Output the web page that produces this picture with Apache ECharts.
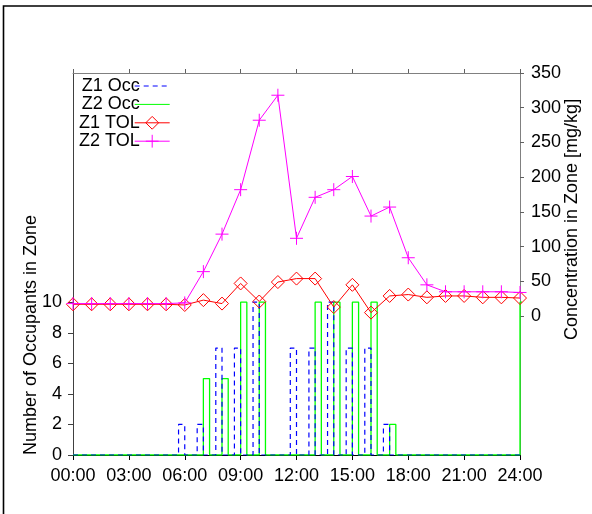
<!DOCTYPE html>
<html>
<head>
<meta charset="utf-8">
<script src="https://cdn.jsdelivr.net/npm/echarts@6/dist/echarts.min.js"></script>
<style>
html,body{margin:0;padding:0;background:#fff;}
#c{width:592px;height:514px;}
</style>
</head>
<body>
<div id="c"></div>
<script>
// ---- data ----
const hours = [0,1,2,3,4,5,6,7,8,9,10,11,12,13,14,15,16,17,18,19,20,21,22,23,24];
const z1Tol = [17,17,17,17,17,17,16,23,18,47,21,49,54,54,13,45,5,29,31,27,29,29,27,27,26];
const z2Tol = [18,18,18,18,18,18,19,64,118,182,282,318,112,171,182,201,144,157,84,45,35,35,35,35,34];
// Z1 occupancy: pulse lasting the last third of the hour ending at hour h
const z1Occ = [0,0,0,0,0,0,2,2,7,7,10,0,7,7,10,7,7,2,0,0,0,0,0,0,0];
// Z2 occupancy: pulse lasting the first third of the hour starting at hour h
const z2Occ = [0,0,0,0,0,0,0,5,5,10,10,0,0,10,10,10,10,2,0,0,0,0,0,0,10];
const pulseLen = 1/3;
const xTickLabels = ['00:00','03:00','06:00','09:00','12:00','15:00','18:00','21:00','24:00'];
const leftTicks = [0,2,4,6,8,10];
const rightTicks = [0,50,100,150,200,250,300,350];
const seriesNames = ['Z1 Occ','Z2 Occ','Z1 TOL','Z2 TOL'];

function stepsBefore(vals){
  const pts=[[0,0]];
  hours.forEach((h,i)=>{const v=vals[i]; if(v>0){pts.push([h-pulseLen,0],[h-pulseLen,v],[h,v],[h,0]);}});
  if(pts[pts.length-1][0]<24) pts.push([24,0]);
  return pts;
}
function stepsAfter(vals){
  const pts=[[0,0]];
  hours.forEach((h,i)=>{const v=vals[i]; if(v>0){pts.push([h,0],[h,v],[h+pulseLen,v],[h+pulseLen,0]);}});
  if(pts[pts.length-1][0]<24) pts.push([24,0]);
  return pts;
}

const FONT = "'Liberation Sans', Arial, Helvetica, sans-serif";
const chart = echarts.init(document.getElementById('c'), null, {renderer:'canvas'});
const diamond = 'path://M0,-1L1,0L0,1L-1,0Z';
const plus = 'path://M0,-1L0,1M-1,0L1,0';

chart.setOption({
  animation:false,
  backgroundColor:'#fff',
  textStyle:{fontFamily:FONT},
  grid:{left:73,right:72,top:73,bottom:59,containLabel:false},
  legend:{
    orient:'vertical', left:79, top:77, align:'right',
    itemWidth:35, itemHeight:16, itemGap:0.4, padding:0,
    lineStyle:{width:1},
    data:[
      {name:seriesNames[0], itemStyle:{opacity:0}},
      {name:seriesNames[1], itemStyle:{opacity:0}},
      {name:seriesNames[2], itemStyle:{color:'rgba(255,0,0,0)',borderColor:'#ff0000',borderWidth:1}},
      {name:seriesNames[3], itemStyle:{color:'rgba(255,0,255,0)',borderColor:'#ff00ff',borderWidth:1}}
    ],
    textStyle:{fontSize:18,color:'#000',fontFamily:FONT,lineHeight:17,padding:[0,-10,0,0]}
  },
  xAxis:[{
    type:'value', min:0, max:24, interval:3, position:'bottom',
    axisLine:{show:true,onZero:false,lineStyle:{color:'#000',width:1}},
    axisTick:{show:true,inside:false,length:5,lineStyle:{color:'#000'}},
    axisLabel:{fontSize:18,color:'#000',margin:12,fontFamily:FONT,formatter:v=>xTickLabels[Math.round(v/3)]},
    splitLine:{show:false}
  },{
    type:'value', min:0, max:24, interval:3, position:'top',
    axisLine:{show:true,onZero:false,lineStyle:{color:'#808080',width:1}},
    axisTick:{show:true,inside:false,length:4,lineStyle:{color:'#606060'}},
    axisLabel:{show:false}, splitLine:{show:false}
  }],
  yAxis:[{
    type:'value', min:0, max:25, interval:1, position:'left',
    axisLine:{show:true,onZero:false,lineStyle:{color:'#404040',width:1}},
    axisTick:{show:true,inside:false,length:5,customValues:leftTicks,lineStyle:{color:'#404040'}},
    axisLabel:{fontSize:18,color:'#000',margin:11,fontFamily:FONT,customValues:leftTicks},
    splitLine:{show:false}
  },{
    type:'value', min:-200, max:350, interval:50, position:'right',
    axisLine:{show:true,onZero:false,lineStyle:{color:'#808080',width:1}},
    axisTick:{show:true,inside:false,length:4,customValues:rightTicks,lineStyle:{color:'#606060'}},
    axisLabel:{fontSize:18,color:'#000',margin:11,fontFamily:FONT,customValues:rightTicks},
    splitLine:{show:false}
  }],
  series:[{
    name:seriesNames[1], type:'line', xAxisIndex:0, yAxisIndex:0, z:2,
    data:stepsAfter(z2Occ), symbol:'circle', showSymbol:false,
    lineStyle:{color:'#00ff00',width:1.3,type:'solid'}
  },{
    name:seriesNames[0], type:'line', xAxisIndex:0, yAxisIndex:0, z:3,
    data:stepsBefore(z1Occ), symbol:'circle', showSymbol:false,
    lineStyle:{color:'#0000ff',width:1.2,type:[5,4]}
  },{
    name:seriesNames[2], type:'line', xAxisIndex:0, yAxisIndex:1, z:4,
    data:hours.map((h,i)=>[h,z1Tol[i]]),
    symbol:diamond, symbolSize:13, showAllSymbol:true,
    lineStyle:{color:'#ff0000',width:1},
    itemStyle:{color:'rgba(255,0,0,0)',borderColor:'#ff0000',borderWidth:1}
  },{
    name:seriesNames[3], type:'line', xAxisIndex:0, yAxisIndex:1, z:5,
    data:hours.map((h,i)=>[h,z2Tol[i]]),
    symbol:plus, symbolSize:13, showAllSymbol:true,
    lineStyle:{color:'#ff00ff',width:1},
    itemStyle:{color:'rgba(255,0,255,0)',borderColor:'#ff00ff',borderWidth:1}
  }],
  graphic:[{
    type:'rect', silent:true, z:0,
    shape:{x:3.5,y:6,width:800,height:800},
    style:{fill:'none',stroke:'#000',lineWidth:1.6}
  },{
    type:'text', x:31, y:455, rotation:Math.PI/2,
    style:{text:'Number of Occupants in Zone',fontSize:18,fontFamily:FONT,fill:'#000',align:'left',verticalAlign:'middle'}
  },{
    type:'text', x:572, y:340, rotation:Math.PI/2,
    style:{text:'Concentration in Zone [mg/kg]',fontSize:18,fontFamily:FONT,fill:'#000',align:'left',verticalAlign:'middle'}
  }]
});
</script>
</body>
</html>
